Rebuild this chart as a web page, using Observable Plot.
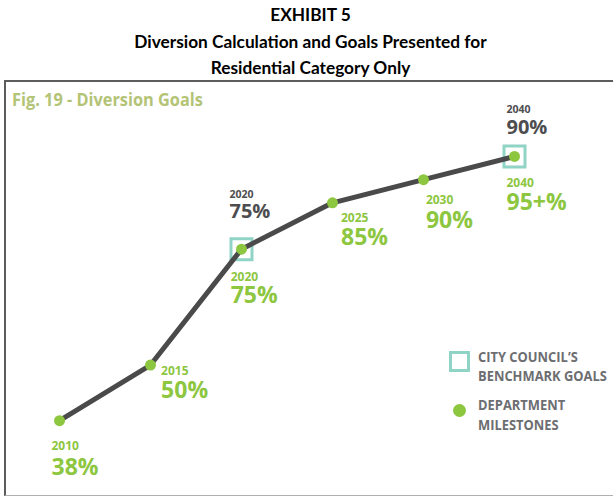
<!DOCTYPE html>
<html>
<head>
<meta charset="utf-8">
<script src="https://cdn.jsdelivr.net/npm/d3@7"></script>
<script src="https://cdn.jsdelivr.net/npm/@observablehq/plot@0.6"></script>
<style>
  html, body { margin: 0; padding: 0; background: #fff; }
  #page { position: relative; width: 613px; height: 497px; overflow: hidden; background: #fff; }
  #title { position: absolute; left: 4px; top: 2px; width: 613px; text-align: center;
           font-family: Lato, "Open Sans", sans-serif; font-weight: 700; font-size: 17.3px;
           line-height: 26.5px; color: #000; }
  #frame { position: absolute; left: 4px; top: 80px; width: 609px; height: 416px; box-sizing: border-box;
           border-top: 2px solid #5c5c5c; border-left: 2px solid #5c5c5c; border-bottom: 1px solid #b0b0b0; }
  #chart { position: absolute; left: 0; top: 82px; }
  #figtitle { position: absolute; left: 12px; top: 90.4px; font-family: "Open Sans", sans-serif; font-weight: 700;
              font-size: 17px; line-height: 20px; color: #b4c476; white-space: nowrap;
              transform: scaleX(0.96); transform-origin: left center; }
  .legtext { position: absolute; left: 478.3px; font-family: "Open Sans", sans-serif; font-weight: 700;
             font-size: 14.5px; line-height: 19.7px; color: #6d6e71; white-space: nowrap;
             transform: scaleX(0.89); transform-origin: left center; }
  #legsq { position: absolute; left: 448.5px; top: 351px; width: 21px; height: 21px; box-sizing: border-box;
           border: 3px solid #90d4c6; }
  #legdot { position: absolute; left: 452.8px; top: 403.5px; width: 13px; height: 13px; border-radius: 50%;
            background: #8dc63f; }
</style>
</head>
<body>
<div id="page">
  <div id="title">
    <div>EXHIBIT 5</div>
    <div>Diversion Calculation and Goals Presented for</div>
    <div>Residential Category Only</div>
  </div>
  <div id="frame"></div>
  <div id="chart"></div>
  <div id="figtitle">Fig. 19 - Diversion Goals</div>
  <div id="legsq"></div>
  <div class="legtext" style="top:346.7px">CITY COUNCIL’S<br>BENCHMARK GOALS</div>
  <div id="legdot"></div>
  <div class="legtext" style="top:395px">DEPARTMENT<br>MILESTONES</div>
</div>
<script>
// ---- data ----
const years = ["2010", "2015", "2020", "2025", "2030", "2040"];
const milestoneValues = [38, 50, 75, 85, 90, 95];
const milestoneLabels = ["38%", "50%", "75%", "85%", "90%", "95+%"];
const benchmarkYears = ["2020", "2040"];
const benchmarkLabels = ["75%", "90%"];

// ---- layout (label offsets from the point, px) ----
const greenOffsets = {
  "2010": [-8, 26, 47],
  "2015": [10.6, 6.5, 25.5],
  "2020": [-10.8, 27.5, 46],
  "2025": [8.5, 15, 35],
  "2030": [2.4, 21, 40.5],
  "2040": [-8, 26.5, 46]
};
const darkOffsets = {
  "2020": [-12, -54.5, -38],
  "2040": [-8, -47, -29]
};

const milestones = years.map((year, i) => ({ year, value: milestoneValues[i], label: milestoneLabels[i] }));
const benchmarks = benchmarkYears.map((year, i) => {
  const m = milestones.find(d => d.year === year);
  return { year, value: m.value, label: benchmarkLabels[i] };
});

const GREEN = "#8dc63f", TEAL = "#90d4c6", LINE = "#4a4a4a", DARK = "#4d4d4f";
const FONT = "Open Sans, sans-serif";

const marks = [
  Plot.dot(benchmarks, { x: "year", y: "value", symbol: "square", r: 11.85, fill: "none", stroke: TEAL, strokeWidth: 3 }),
  Plot.line(milestones, { x: "year", y: "value", stroke: LINE, strokeWidth: 5, strokeLinejoin: "round", strokeLinecap: "round" }),
  Plot.dot(milestones, { x: "year", y: "value", r: 5.5, fill: GREEN })
];

for (const d of milestones) {
  const [dx, dyYear, dyPct] = greenOffsets[d.year];
  marks.push(Plot.text([d], { x: "year", y: "value", text: "year", dx, dy: dyYear, textAnchor: "start",
    fill: GREEN, fontFamily: FONT, fontWeight: 700, fontSize: 12 }));
  marks.push(Plot.text([d], { x: "year", y: "value", text: "label", dx, dy: dyPct, textAnchor: "start",
    fill: GREEN, fontFamily: FONT, fontWeight: 700, fontSize: 23 }));
}
for (const d of benchmarks) {
  const [dx, dyYear, dyPct] = darkOffsets[d.year];
  marks.push(Plot.text([d], { x: "year", y: "value", text: "year", dx, dy: dyYear, textAnchor: "start",
    fill: DARK, fontFamily: FONT, fontWeight: 700, fontSize: 10.5 }));
  marks.push(Plot.text([d], { x: "year", y: "value", text: "label", dx, dy: dyPct, textAnchor: "start",
    fill: DARK, fontFamily: FONT, fontWeight: 700, fontSize: 20 }));
}

const chart = Plot.plot({
  width: 613,
  height: 412,
  marginLeft: 58,
  marginRight: 98,
  marginTop: 50.8,
  marginBottom: 36.8,
  x: { type: "point", domain: years, padding: 0, axis: null },
  y: { domain: [30, 100], axis: null },
  style: { background: "transparent", overflow: "visible" },
  marks
});
document.getElementById("chart").appendChild(chart);
</script>
</body>
</html>
